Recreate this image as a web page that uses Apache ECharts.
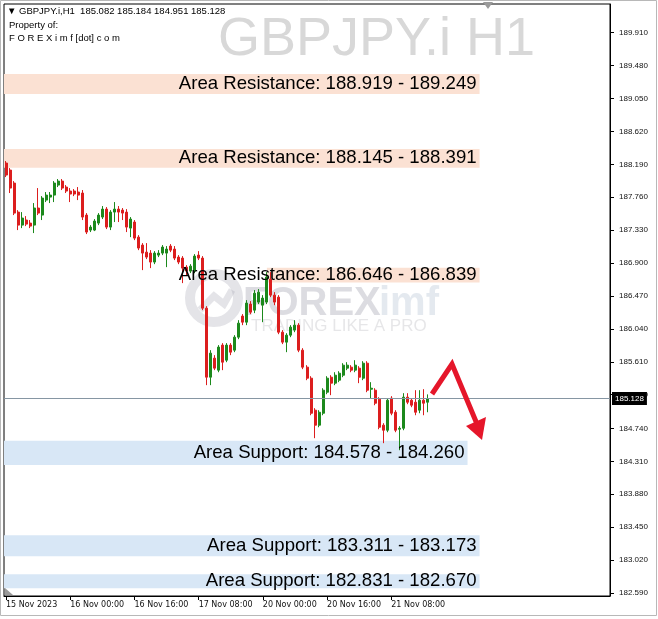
<!DOCTYPE html>
<html><head><meta charset="utf-8">
<script src="https://cdn.jsdelivr.net/npm/echarts@6/dist/echarts.min.js"></script>
<style>html,body{margin:0;padding:0;background:#fff}#c{width:658px;height:619px}</style>
</head><body><div id="c"></div>
<script>
const opens = [
188.207,188.115,187.945,187.566,187.396,187.462,187.422,187.396,187.619,187.527,
187.723,187.762,187.788,187.919,187.971,187.893,187.841,187.841,187.828,187.815,
187.527,187.331,187.331,187.422,187.501,187.605,187.370,187.566,187.605,187.592,
187.566,187.357,187.436,187.239,187.135,187.043,187.030,186.913,187.004,187.030,
187.030,187.122,187.083,186.978,186.965,186.847,186.795,186.795,187.004,186.965,
186.311,185.409,185.658,185.501,185.828,185.631,185.828,185.762,185.932,186.207,
186.128,186.364,186.285,186.390,186.350,186.390,186.690,186.481,186.455,185.997,
185.867,185.958,186.024,186.089,185.762,185.540,185.396,184.978,184.782,184.938,
185.213,185.409,185.331,185.370,185.435,185.527,185.540,185.501,185.527,185.396,
185.592,185.252,185.239,185.122,184.782,184.716,185.135,184.951,184.729,184.742,
185.148,185.108,185.082,184.978,185.108,185.082];
const closes = [
188.050,187.880,187.553,187.396,187.488,187.409,187.383,187.619,187.553,187.749,
187.788,187.788,187.945,187.971,187.880,187.841,187.802,187.802,187.788,187.501,
187.305,187.370,187.449,187.527,187.605,187.370,187.566,187.605,187.566,187.553,
187.370,187.475,187.226,187.096,187.030,186.978,186.913,187.030,187.030,187.109,
187.083,187.069,186.965,186.913,186.834,186.795,186.860,186.991,186.965,186.311,
185.409,185.723,185.527,185.802,185.605,185.828,185.736,185.932,186.115,186.128,
186.377,186.259,186.507,186.520,186.442,186.717,186.481,186.390,185.997,185.867,
185.958,186.063,186.089,185.762,185.540,185.396,184.938,184.782,184.951,185.239,
185.396,185.331,185.435,185.461,185.566,185.566,185.501,185.566,185.409,185.592,
185.239,185.265,185.069,184.755,184.716,185.108,184.938,184.716,184.742,185.148,
185.082,185.043,184.951,185.108,185.069,185.128];
const highs = [
188.233,188.141,187.971,187.592,187.566,187.514,187.462,187.684,187.880,187.775,
187.828,187.828,187.971,187.998,187.998,187.919,187.880,187.867,187.893,187.854,
187.553,187.396,187.475,187.553,187.645,187.632,187.592,187.697,187.645,187.619,
187.605,187.501,187.462,187.265,187.161,187.161,187.069,187.056,187.069,187.135,
187.122,187.148,187.122,187.004,186.991,186.873,186.886,187.017,187.056,186.991,
186.337,185.762,185.697,185.828,185.854,185.854,185.854,185.958,186.154,186.233,
186.416,186.403,186.547,186.560,186.481,186.782,186.782,186.520,186.481,186.024,
185.984,186.089,186.154,186.115,185.788,185.566,185.422,185.004,184.978,185.265,
185.422,185.435,185.474,185.487,185.592,185.605,185.566,185.631,185.553,185.618,
185.618,185.344,185.265,185.148,184.808,185.135,185.161,184.978,184.769,185.200,
185.200,185.135,185.239,185.239,185.252,185.184];
const lows = [
188.024,187.815,187.527,187.331,187.357,187.383,187.357,187.292,187.527,187.462,
187.697,187.684,187.697,187.893,187.854,187.815,187.697,187.775,187.723,187.462,
187.279,187.305,187.318,187.396,187.475,187.344,187.331,187.436,187.436,187.462,
187.305,187.239,187.200,187.069,186.808,186.952,186.834,186.886,186.978,187.004,
186.847,187.043,186.939,186.886,186.638,186.743,186.769,186.769,186.939,186.285,
185.305,185.305,185.501,185.474,185.501,185.605,185.697,185.736,185.906,186.089,
186.089,186.233,186.246,186.364,186.128,186.364,186.455,186.350,185.971,185.841,
185.736,185.932,185.997,185.736,185.514,185.370,184.912,184.612,184.755,184.912,
185.187,185.174,185.305,185.344,185.409,185.501,185.474,185.474,185.331,185.370,
185.213,185.135,185.043,184.729,184.547,184.690,184.912,184.690,184.455,184.716,
185.056,185.017,184.912,184.938,184.912,184.951];

const slotCount = 151;
const timeTickIndex = [0,16,32,48,64,80,96];
const timeTickLabels = ['15 Nov 2023','16 Nov 00:00','16 Nov 16:00','17 Nov 08:00','20 Nov 00:00','20 Nov 16:00','21 Nov 08:00'];
const priceTicks = [182.59,183.02,183.45,183.88,184.31,184.74,185.18,185.61,186.04,186.47,186.90,187.33,187.76,188.19,188.62,189.05,189.48,189.91];
const bandLabels = ['Area Resistance: 188.919 - 189.249','Area Resistance: 188.145 - 188.391','Area Resistance: 186.646 - 186.839','Area Support: 184.578 - 184.260','Area Support: 183.311 - 183.173','Area Support: 182.831 - 182.670'];
const bandLow  = [189.110,188.145,186.646,184.260,183.070,182.650];
const bandHigh = [189.370,188.391,186.839,184.578,183.345,182.835];
const bandIsSupport = [false,false,false,true,true,true];
const bandStartSlot = [null,null,65,null,null,null];
const bandEndSlot = [118,118,118,115,118,118];
const lastPrice = 185.128;
const headerLine = '\u25BC GBPJPY.i,H1  185.082 185.184 184.951 185.128';

const categories = Array.from({length: slotCount}, (_, i) => String(i));
const ohlc = opens.map((o, i) => [o, closes[i], lows[i], highs[i]]);
const labelMap = {}; timeTickIndex.forEach((k, j) => labelMap[k] = timeTickLabels[j]);
const isTick = (i) => labelMap[i] !== undefined;

const RED = '#DC1E1E', GREEN = '#1C891C';
const bandFill = bandLabels.map((t, i) => {
  const a = { yAxis: bandHigh[i], itemStyle: { color: bandIsSupport[i] ? '#D8E7F6' : '#FBE1D3' } };
  if (bandStartSlot[i] !== null) a.xAxis = bandStartSlot[i];
  return [a, { xAxis: bandEndSlot[i], yAxis: bandLow[i] }];
});
const bandText = bandLabels.map((t, i) => {
  const a = { yAxis: bandHigh[i], name: t };
  if (bandStartSlot[i] !== null) a.xAxis = bandStartSlot[i];
  return [a, { xAxis: bandEndSlot[i], yAxis: bandLow[i] }];
});

const chart = echarts.init(document.getElementById('c'), null, { renderer: 'canvas' });
chart.setOption({
  animation: false,
  backgroundColor: '#ffffff',
  grid: { left: 4, right: 48, top: 4, bottom: 23, show: true, borderColor: '#000', borderWidth: 1, backgroundColor: 'transparent' },
  xAxis: {
    type: 'category', data: categories, boundaryGap: true,
    axisLine: { show: true, lineStyle: { color: '#000' } },
    axisTick: { show: true, alignWithLabel: true, interval: (i) => isTick(i), length: 4, lineStyle: { color: '#000' } },
    axisLabel: { interval: (i) => isTick(i), formatter: (v, i) => labelMap[i] || '', align: 'left', margin: 5,
      fontFamily: 'DejaVu Sans', fontSize: 8, color: '#111' },
    splitLine: { show: false }
  },
  yAxis: {
    type: 'value', position: 'right', min: 182.55, max: 190.285, scale: true,
    axisLine: { show: true, lineStyle: { color: '#000' } },
    axisTick: { show: true, length: 4, customValues: priceTicks, lineStyle: { color: '#000' } },
    axisLabel: { customValues: priceTicks, formatter: (v) => v.toFixed(3), fontFamily: 'Liberation Sans', fontSize: 8, color: '#111', margin: 9 },
    splitLine: { show: false }
  },
  series: [
    {
      type: 'candlestick', data: ohlc, barWidth: 2.5, z: 3,
      itemStyle: { color: GREEN, color0: RED, borderColor: GREEN, borderColor0: RED, borderWidth: 1 },
      markArea: { silent: true, label: { show: false }, data: bandFill },
      markLine: {
        silent: true, symbol: ['none', 'none'], z: 10,
        lineStyle: { color: '#8696a3', width: 1, type: 'solid' },
        label: { show: true, position: 'end', formatter: lastPrice.toFixed(3), backgroundColor: '#000', color: '#fff',
          fontFamily: 'Liberation Sans', fontSize: 8, padding: [3, 3, 2, 3], distance: 2 },
        data: [{ yAxis: lastPrice }]
      }
    },
    {
      type: 'line', data: [], z: 5, silent: true,
      markArea: { silent: true, z: 5, itemStyle: { color: 'rgba(0,0,0,0)' },
        label: { show: true, position: 'insideRight', distance: 3, color: '#000', fontFamily: 'Liberation Sans', fontSize: 18.6 },
        data: bandText }
    }
  ],
  graphic: [
    { type: 'text', z: 0, left: 218, top: 13, style: { text: 'GBPJPY.i H1', fill: '#d8d8d8', font: '54px "Liberation Sans"' } },
    { type: 'circle', z: 0, shape: { cx: 214, cy: 298, r: 24 }, style: { fill: 'none', stroke: 'rgba(150,150,165,0.26)', lineWidth: 10 } },
    { type: 'polyline', z: 0, shape: { points: [[200, 310], [214, 296], [224, 304], [232, 290]] }, style: { stroke: 'rgba(150,150,165,0.26)', lineWidth: 7, fill: 'none' } },
    { type: 'text', z: 0, left: 243, top: 284, style: { text: 'FOREX', fill: 'rgba(140,140,155,0.30)', font: 'bold 40px "Liberation Sans"' } },
    { type: 'text', z: 0, left: 379, top: 284, style: { text: 'imf', fill: 'rgba(150,170,195,0.26)', font: 'bold 40px "Liberation Sans"' } },
    { type: 'text', z: 0, left: 251, top: 318, style: { text: 'TRADING LIKE A PRO', fill: 'rgba(150,150,160,0.24)', font: '17px "Liberation Sans"' } },
    { type: 'text', z: 20, left: 7, top: 6, style: { text: headerLine, fill: '#000', font: '9.5px "Liberation Sans"' } },
    { type: 'text', z: 20, left: 9, top: 20, style: { text: 'Property of:', fill: '#000', font: '9.5px "Liberation Sans"' } },
    { type: 'text', z: 20, left: 9, top: 33, style: { text: 'F O R E X i m f [dot] c o m', fill: '#000', font: '9.5px "Liberation Sans"' } },
    { type: 'polyline', z: 30, shape: { points: [[432, 394], [452, 364], [477, 424]] }, style: { stroke: '#E5162A', lineWidth: 5, fill: 'none', lineJoin: 'miter' } },
    { type: 'polygon', z: 30, shape: { points: [[466, 426], [486, 417], [482, 440]] }, style: { fill: '#E5162A' } },
    { type: 'polygon', z: 30, shape: { points: [[483, 2], [493, 2], [488, 9]] }, style: { fill: '#9a9a9a' } },
    { type: 'polygon', z: 30, shape: { points: [[5, 588], [5, 595], [13, 595]] }, style: { fill: '#9a9a9a' } },
    { type: 'rect', z: 30, shape: { x: 0.5, y: 0.5, width: 656, height: 615 }, style: { fill: 'none', stroke: '#b8b8b8', lineWidth: 1 } }
  ]
});
</script></body></html>
